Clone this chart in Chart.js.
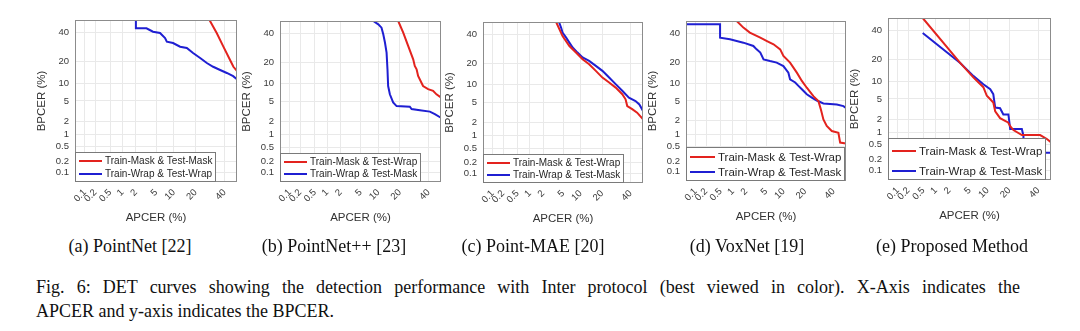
<!DOCTYPE html>
<html>
<head>
<meta charset="utf-8">
<script src="https://cdn.jsdelivr.net/npm/chart.js@4.4.0/dist/chart.umd.min.js"></script>
<style>
  html, body { margin: 0; padding: 0; background: #fff; }
  body { width: 1080px; height: 331px; position: relative; overflow: hidden; font-family: "Liberation Serif", "Times New Roman", serif; color: #111; }
  canvas.det { position: absolute; }
  .sub { position: absolute; top: 235px; font-size: 18px; line-height: 22px; white-space: nowrap; transform: translateX(-50%); }
  .cap { position: absolute; left: 36px; top: 275px; width: 984px; font-size: 18px; line-height: 24px; }
  .cap .l1 { text-align: justify; text-align-last: justify; }
</style>
</head>
<body>
<canvas class="det" id="detA"></canvas>
<canvas class="det" id="detB"></canvas>
<canvas class="det" id="detC"></canvas>
<canvas class="det" id="detD"></canvas>
<canvas class="det" id="detE"></canvas>

<div class="sub" style="left:130px">(a) PointNet [22]</div>
<div class="sub" style="left:334px">(b) PointNet++ [23]</div>
<div class="sub" style="left:533px">(c) Point-MAE [20]</div>
<div class="sub" style="left:747px">(d) VoxNet [19]</div>
<div class="sub" style="left:952px">(e) Proposed Method</div>

<div class="cap">
  <div class="l1">Fig. 6: DET curves showing the detection performance with Inter protocol (best viewed in color). X-Axis indicates the</div>
  <div>APCER and y-axis indicates the BPCER.</div>
</div>

<script>
// ===== DET curves (APCER / BPCER in %, probit axes) =====

const TICKS = [0.1, 0.2, 0.5, 1, 2, 5, 10, 20, 40];
const TICK_LABELS = ['0.1', '0.2', '0.5', '1', '2', '5', '10', '20', '40'];
const AXIS_MIN = 0.05, AXIS_MAX = 50;

// (a) PointNet
const aRedApcer  = [28.8, 34.1, 39.1, 44.4, 47.1, 49.9];
const aRedBpcer  = [50, 39.4, 29.4, 20.8, 17.1, 15.1];
const aBlueApcer = [2.0, 2.0, 3.3, 4.4, 5.9, 7.2, 7.7, 9.7, 12.4, 15.4, 18.6, 22.7, 27, 31.4, 36.6, 41.8, 46.9, 49.9];
const aBlueBpcer = [50, 43.3, 43.3, 40.6, 39.6, 35.7, 33, 32, 29.4, 28.5, 25.1, 22, 19.1, 17.1, 15.5, 14.1, 12.7, 11.5];

// (b) PointNet++
const bRedApcer  = [19.1, 22, 25.1, 28.5, 29.6, 30.9, 32, 35.7, 39.6, 43.6, 46.3, 49.9];
const bRedBpcer  = [50, 40.6, 30.5, 21.7, 17.9, 16.2, 13.1, 9.2, 8.2, 7.7, 6.7, 5.9];
const bBlueApcer = [8.3, 10.0, 11.2, 11.9, 12.6, 13.3, 13.7, 14.0, 14.8, 16.4, 18.2, 26.2, 27.4, 33.3, 41, 45, 49.9];
const bBlueBpcer = [50, 47.3, 44.6, 39.3, 33, 25.9, 16.2, 9.2, 6.7, 4.8, 4.1, 4.0, 3.6, 3.4, 3.2, 2.85, 2.4];

// (c) Point-MAE
const cRedApcer  = [3.7, 4.9, 6.5, 8.4, 10.7, 13.4, 16.6, 20.2, 24.3, 28.7, 33.5, 36, 37.3, 41.2, 45.2, 49.9];
const cRedBpcer  = [50, 38.7, 31.2, 26.6, 22.3, 19.4, 15.9, 12.8, 10.8, 9, 7, 5.7, 4.3, 3.75, 3.2, 2.35];
const cBlueApcer = [4.2, 4.6, 4.9, 5.7, 6.5, 7.4, 8.9, 10.7, 13.4, 16.6, 20.2, 24.3, 28.7, 33.5, 38.6, 43.9, 47, 49.9];
const cBlueBpcer = [50, 45.5, 41.4, 37.5, 33.7, 30.1, 26.6, 23.4, 21.3, 18.5, 15.9, 12.8, 10.2, 8, 6.1, 5.3, 4.6, 3.5];

// (d) VoxNet
const dRedApcer  = [1.23, 1.74, 2.4, 3.9, 5.2, 6.8, 8.8, 9.9, 12.5, 15.6, 18.2, 21, 25.1, 28.5, 30.2, 32.1, 34.6, 38.5, 43.8, 45.2, 49.9];
const dRedBpcer  = [50, 44.6, 40.6, 36.6, 34, 31.6, 28, 23.6, 19.6, 14.4, 10.9, 8.5, 6.1, 5, 3.5, 2.15, 1.54, 1.18, 1.08, 0.62, 0.59];
const dBlueApcer = [0.05, 0.48, 0.48, 0.85, 1.74, 2.84, 3.3, 3.9, 4.5, 5.9, 7.7, 9.9, 11.8, 12.5, 14.8, 16.4, 18.2, 21, 24.1, 27.4, 32.1, 42.5, 47.9, 49.9];
const dBlueBpcer = [47.3, 47.3, 36.6, 35.3, 32.8, 30.4, 28, 25.8, 21.5, 20.5, 19.6, 17.7, 14.4, 11.5, 10.3, 9.1, 8, 6.6, 5.75, 5.1, 4.5, 4.3, 4, 3.7];

// (e) Proposed Method
const eRedApcer  = [0.48, 3.3, 5.9, 8.6, 9.75, 11, 12.2, 13, 15.2, 17.7, 19.3, 20.5, 22.4, 27.8, 41.3, 46.7, 49.9];
const eRedBpcer  = [50, 18.2, 11.3, 8, 5.7, 4.95, 4.3, 2.9, 2.1, 1.84, 1.7, 1.4, 1.14, 0.87, 0.87, 0.7, 0.58];
const eBlueApcer = [0.48, 3.3, 5.9, 8.6, 11, 12.2, 13, 15.2, 16.8, 19.5, 20.5, 27.8, 28.9, 28.9, 49.9];
const eBlueBpcer = [38.1, 18.2, 11.9, 8.9, 7.4, 6.1, 3.45, 3.35, 2.5, 2.5, 1.2, 1.2, 0.84, 0.31, 0.31];

const RED = '#e3231e', BLUE = '#1f1fd2';
const SANS = '"Liberation Sans", Arial, Helvetica, sans-serif';

// inverse normal CDF (Acklam), used for the DET (probit) axes
function probit(p) {
  const a = [-3.969683028665376e+01, 2.209460984245205e+02, -2.759285104469687e+02, 1.383577518672690e+02, -3.066479806614716e+01, 2.506628277459239e+00];
  const b = [-5.447609879822406e+01, 1.615858368580409e+02, -1.556989798598866e+02, 6.680131188771972e+01, -1.328068155288572e+01];
  const c = [-7.784894002430293e-03, -3.223964580411365e-01, -2.400758277161838e+00, -2.549732539343734e+00, 4.374664141464968e+00, 2.938163982698783e+00];
  const d = [7.784695709041462e-03, 3.224671290700398e-01, 2.445134137142996e+00, 3.754408661907416e+00];
  const pl = 0.02425;
  let q, r;
  if (p < pl) {
    q = Math.sqrt(-2 * Math.log(p));
    return (((((c[0]*q+c[1])*q+c[2])*q+c[3])*q+c[4])*q+c[5]) / ((((d[0]*q+d[1])*q+d[2])*q+d[3])*q+1);
  }
  if (p > 1 - pl) {
    q = Math.sqrt(-2 * Math.log(1 - p));
    return -(((((c[0]*q+c[1])*q+c[2])*q+c[3])*q+c[4])*q+c[5]) / ((((d[0]*q+d[1])*q+d[2])*q+d[3])*q+1);
  }
  q = p - 0.5; r = q * q;
  return (((((a[0]*r+a[1])*r+a[2])*r+a[3])*r+a[4])*r+a[5])*q / (((((b[0]*r+b[1])*r+b[2])*r+b[3])*r+b[4])*r+1);
}
const pr = v => probit(v / 100);

// frame + legend drawn on top of the curves (MATLAB style, inside the axes)
const detFrameLegend = {
  id: 'detFrameLegend',
  afterDatasetsDraw(chart, args, opts) {
    const { ctx, chartArea: ca } = chart;
    ctx.save();
    ctx.strokeStyle = '#8c8c8c'; ctx.lineWidth = 1;
    ctx.strokeRect(Math.round(ca.left) + 0.5, Math.round(ca.top) + 0.5, Math.round(ca.right - ca.left) - 1, Math.round(ca.bottom - ca.top) - 1);

    ctx.font = opts.size + 'px ' + SANS;
    const dsets = chart.data.datasets;
    const tw = Math.max(...dsets.map(d => ctx.measureText(d.label).width));
    const w = Math.round(4 + opts.lineLen + 3 + tw + 4);
    const h = opts.height;
    const x0 = Math.round(ca.left), y0 = Math.round(ca.bottom) - h;
    ctx.fillStyle = '#fff'; ctx.fillRect(x0, y0, w, h);
    ctx.strokeStyle = '#7a7a7a'; ctx.strokeRect(x0 + 0.5, y0 + 0.5, w - 1, h - 1);
    dsets.forEach((ds, i) => {
      const yy = y0 + opts.rows[i];
      ctx.strokeStyle = ds.borderColor; ctx.lineWidth = 2;
      ctx.beginPath(); ctx.moveTo(x0 + 4, yy); ctx.lineTo(x0 + 4 + opts.lineLen, yy); ctx.stroke();
      ctx.fillStyle = '#262626'; ctx.textBaseline = 'middle'; ctx.textAlign = 'left';
      ctx.fillText(ds.label, x0 + 4 + opts.lineLen + 3, yy + 0.5);
    });
    ctx.restore();
  }
};

function probitAxis(title, isX) {
  return {
    type: 'linear',
    min: pr(AXIS_MIN), max: pr(AXIS_MAX),
    afterBuildTicks: s => { s.ticks = TICKS.map(v => ({ value: pr(v) })); },
    afterFit: s => { if (isX) s.height = 43; else s.width = 75; },
    grid: { color: '#e9e9e9', drawTicks: false, lineWidth: 1 },
    border: { display: false },
    ticks: {
      autoSkip: false,
      padding: isX ? 5 : 6,
      color: '#3a3a3a',
      font: { family: SANS, size: 9.5 },
      maxRotation: isX ? 45 : 0, minRotation: isX ? 45 : 0,
      callback: (v, i) => TICK_LABELS[i]
    },
    title: {
      display: true, text: title, color: '#333',
      font: { family: SANS, size: 11.5 },
      padding: isX ? { top: 0, bottom: 0 } : { top: 35, bottom: 0 }
    }
  };
}

function renderDet(id, box, red, blue, labels, legend) {
  const cv = document.getElementById(id);
  cv.width = 75 + box.w + 8; cv.height = 20 + box.h + 43;
  cv.style.left = (box.left - 75) + 'px'; cv.style.top = (box.top - 20) + 'px';
  const pts = (xs, ys) => xs.map((x, i) => ({ x: pr(x), y: pr(ys[i]) }));
  new Chart(cv, {
    type: 'scatter',
    data: {
      datasets: [
        { label: labels[0], data: pts(red[0], red[1]), showLine: true, borderColor: RED, backgroundColor: RED, borderWidth: 2, pointRadius: 0 },
        { label: labels[1], data: pts(blue[0], blue[1]), showLine: true, borderColor: BLUE, backgroundColor: BLUE, borderWidth: 2, pointRadius: 0 }
      ]
    },
    options: {
      responsive: false, animation: false,
      layout: { padding: { top: 20, right: 8, left: 0, bottom: 0 } },
      scales: { x: probitAxis('APCER (%)', true), y: probitAxis('BPCER (%)', false) },
      plugins: { legend: { display: false }, tooltip: { enabled: false }, detFrameLegend: legend }
    },
    plugins: [detFrameLegend]
  });
}

const LBL_MM = ['Train-Mask & Test-Mask', 'Train-Wrap & Test-Wrap'];
const LBL_MW = ['Train-Mask & Test-Wrap', 'Train-Wrap & Test-Mask'];

renderDet('detA', { left: 75, top: 20, w: 162, h: 162 }, [aRedApcer, aRedBpcer], [aBlueApcer, aBlueBpcer], LBL_MM, { size: 10, height: 30, rows: [9, 22], lineLen: 23 });
renderDet('detB', { left: 280, top: 21, w: 161, h: 161 }, [bRedApcer, bRedBpcer], [bBlueApcer, bBlueBpcer], LBL_MW, { size: 10, height: 29, rows: [9, 21], lineLen: 23 });
renderDet('detC', { left: 483, top: 22, w: 160, h: 161 }, [cRedApcer, cRedBpcer], [cBlueApcer, cBlueBpcer], LBL_MW, { size: 10, height: 29, rows: [9, 21], lineLen: 23 });
renderDet('detD', { left: 686, top: 21, w: 160, h: 160 }, [dRedApcer, dRedBpcer], [dBlueApcer, dBlueBpcer], LBL_MW, { size: 11.5, height: 34, rows: [10, 25], lineLen: 25 });
renderDet('detE', { left: 888, top: 18, w: 163, h: 162 }, [eRedApcer, eRedBpcer], [eBlueApcer, eBlueBpcer], LBL_MW, { size: 11.5, height: 42, rows: [13, 33], lineLen: 24 });
</script>
</body>
</html>
